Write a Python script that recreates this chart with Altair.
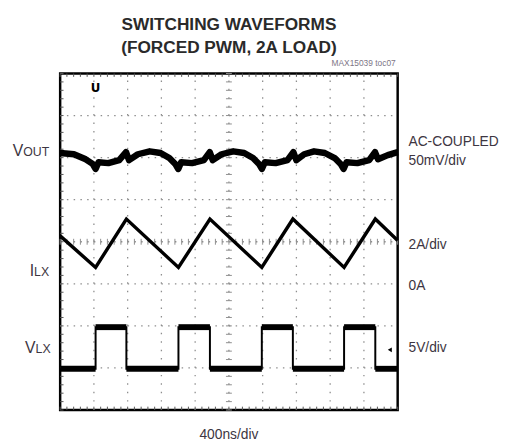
import altair as alt
import pandas as pd

# ---- data (x: time in ns, 400 ns/div over 10 div; y: screen divisions 0..8) ----
vout_t = [0, 163, 303, 385, 420, 455, 571, 700, 781, 816, 921, 1061, 1190, 1294, 1364,
          1400, 1434, 1563, 1703, 1773, 1808, 1913, 2052, 2181, 2286, 2356, 2391, 2426,
          2554, 2694, 2764, 2799, 2892, 3009, 3137, 3254, 3324, 3359, 3394, 3522, 3662,
          3732, 3767, 3883, 4000]
vout_v = [6.11, 6.08, 5.96, 5.85, 5.73, 5.89, 5.87, 5.94, 6.13, 5.94, 6.08, 6.15, 6.11,
          5.99, 5.85, 5.73, 5.89, 5.87, 5.94, 6.13, 5.94, 6.08, 6.15, 6.11, 5.99, 5.85,
          5.73, 5.89, 5.87, 5.94, 6.13, 5.94, 6.08, 6.15, 6.11, 5.99, 5.85, 5.73, 5.89,
          5.87, 5.94, 6.13, 5.96, 6.06, 6.13]

ilx_t = [0, 420, 785, 1402, 1775, 2390, 2758, 3365, 3735, 4000]
ilx_v = [4.14, 3.39, 4.54, 3.39, 4.54, 3.39, 4.54, 3.39, 4.54, 4.03]

vlx_rise = [420, 1402, 2390, 3365]
vlx_fall = [785, 1775, 2758, 3735]
vlx_high = 1.97
vlx_low = 0.98

left_main = ["V", "I", "V"]
left_sub = ["OUT", "LX", "LX"]
left_y = [6.04, 3.19, 1.36]

right_text = ["AC-COUPLED", "50mV/div", "2A/div", "0A", "5V/div"]
right_y = [6.27, 5.82, 3.82, 2.85, 1.39]

title_lines = ["SWITCHING WAVEFORMS", "(FORCED PWM, 2A LOAD)"]
x_label = "400ns/div"
code_label = "MAX15039 toc07"

# ---- tables built from the arrays ----
vout = pd.DataFrame({"t": vout_t, "v": vout_v})
ilx = pd.DataFrame({"t": ilx_t, "v": ilx_v})

vt, vv = [0], [vlx_low]
for r, f in zip(vlx_rise, vlx_fall):
    vt += [r, r, f, f]
    vv += [vlx_low, vlx_high, vlx_high, vlx_low]
vt.append(4000)
vv.append(vlx_low)
vlx = pd.DataFrame({"t": vt, "v": vv, "i": list(range(len(vt)))})
lows = pd.DataFrame({"t": [0] + vlx_fall, "t2": vlx_rise + [4000], "v": vlx_low})
highs = pd.DataFrame({"t": vlx_rise, "t2": vlx_fall, "v": vlx_high})

xs = alt.Scale(domain=[0, 4000], nice=False, zero=False)
ys = alt.Scale(domain=[0, 8], nice=False, zero=False)
X = alt.X("t:Q", scale=xs, axis=None)
Y = alt.Y("v:Q", scale=ys, axis=None)

FONT = "Liberation Sans, Arial, sans-serif"
TFONT = "Liberation Sans, Arial, sans-serif"
TXT = "#3d3642"
GRID = "#8e8e8e"

# grid scaffolding
hgrid = pd.DataFrame({"v": [1, 2, 3, 4, 5, 6, 7], "t": 0, "t2": 4000})
vgrid = pd.DataFrame({"t": [400 * i for i in range(1, 10)], "v": 0, "v2": 8})
xm = [80 * i for i in range(51)]
ym = [0.2 * i for i in range(41)]

h_rules = alt.Chart(hgrid).mark_rule(color=GRID, strokeWidth=1.3, strokeDash=[1.5, 5.36]).encode(
    x=X, x2="t2:Q", y=Y)
v_rules = alt.Chart(vgrid).mark_rule(color=GRID, strokeWidth=1.3, strokeDash=[1.5, 7.05]).encode(
    x=X, y=Y, y2="v2:Q")

ctr_x = alt.Chart(pd.DataFrame({"t": xm, "v": 3.93, "v2": 4.07})).mark_rule(
    color=GRID, strokeWidth=1).encode(x=X, y=Y, y2="v2:Q")
ctr_y = alt.Chart(pd.DataFrame({"v": ym, "t": 1965, "t2": 2035})).mark_rule(
    color=GRID, strokeWidth=1).encode(x=X, x2="t2:Q", y=Y)
top_t = alt.Chart(pd.DataFrame({"t": xm, "v": 7.92, "v2": 8})).mark_rule(
    color="#555", strokeWidth=1).encode(x=X, y=Y, y2="v2:Q")
bot_t = alt.Chart(pd.DataFrame({"t": xm, "v": 0, "v2": 0.08})).mark_rule(
    color="#555", strokeWidth=1).encode(x=X, y=Y, y2="v2:Q")
left_t = alt.Chart(pd.DataFrame({"v": ym, "t": 0, "t2": 40})).mark_rule(
    color="#555", strokeWidth=1).encode(x=X, x2="t2:Q", y=Y)

# traces
vout_line = alt.Chart(vout).mark_line(color="black", strokeWidth=6.5, strokeJoin="round").encode(
    x=X, y=Y, order="t:Q")
ilx_line = alt.Chart(ilx).mark_line(color="black", strokeWidth=3.5).encode(x=X, y=Y, order="t:Q")
vlx_line = alt.Chart(vlx).mark_line(color="black", strokeWidth=2).encode(
    x=X, y=Y, order="i:Q")
vlx_lo = alt.Chart(lows).mark_rule(color="black", strokeWidth=6).encode(x=X, x2="t2:Q", y=Y)
vlx_hi = alt.Chart(highs).mark_rule(color="black", strokeWidth=6).encode(x=X, x2="t2:Q", y=Y)

# markers
trig = alt.Chart(pd.DataFrame({"t": [420], "v": [7.65], "s": ["U"]})).mark_text(
    font="DejaVu Sans", fontSize=12, fontWeight="bold", color="black").encode(x=X, y=Y, text="s:N")
gnd = alt.Chart(pd.DataFrame({"t": [3907], "v": [1.43]})).mark_point(
    shape="triangle-left", filled=True, size=22, color="black", opacity=1).encode(x=X, y=Y)

# labels
rl = pd.DataFrame({"s": right_text, "v": right_y, "t": 4000})
r_lab = alt.Chart(rl).mark_text(font=FONT, fontSize=14, align="left", baseline="alphabetic",
                                color=TXT, dx=11).encode(x=X, y=Y, text="s:N")

ttl = pd.DataFrame({"s": title_lines, "t": 2000, "v": 8})
t1 = alt.Chart(ttl.iloc[[0]]).mark_text(font=TFONT, fontSize=17.5, fontWeight="bold", align="center",
                                         baseline="alphabetic", color="#2a2a2a", dy=-44).encode(
    x=X, y=Y, text="s:N")
t2 = alt.Chart(ttl.iloc[[1]]).mark_text(font=TFONT, fontSize=17.5, fontWeight="bold", align="center",
                                         baseline="alphabetic", color="#2a2a2a", dy=-21).encode(
    x=X, y=Y, text="s:N")
code = alt.Chart(pd.DataFrame({"s": [code_label], "t": 4000, "v": 8})).mark_text(
    font=FONT, fontSize=8.5, align="right", baseline="alphabetic", color="#7d7585", dx=-2, dy=-8).encode(
    x=X, y=Y, text="s:N")
xl = alt.Chart(pd.DataFrame({"s": [x_label], "t": 2000, "v": 0})).mark_text(
    font=FONT, fontSize=14, align="center", baseline="alphabetic", color=TXT, dy=29).encode(
    x=X, y=Y, text="s:N")

# left labels: big first letter + smaller caps
lm = []
ls = []
for m, s, v, right_px in zip(left_main, left_sub, left_y, [-37.5, -26.5, -25]):
    d = pd.DataFrame({"m": [m], "s": [s], "v": [v], "t": [0]})
    lm.append(alt.Chart(d).mark_text(font=FONT, fontSize=16, align="right", baseline="alphabetic",
                                     color=TXT, dx=right_px).encode(x=X, y=Y, text="m:N"))
    ls.append(alt.Chart(d).mark_text(font=FONT, fontSize=12.5, align="left", baseline="alphabetic",
                                     color=TXT, dx=right_px).encode(x=X, y=Y, text="s:N"))

chart = alt.layer(
    h_rules, v_rules, ctr_x, ctr_y, top_t, bot_t, left_t,
    vout_line, ilx_line, vlx_line, vlx_lo, vlx_hi, trig, gnd,
    r_lab, t1, t2, code, xl, *lm, *ls,
).properties(
    width=343, height=342, autosize="none",
    padding={"left": 53, "top": 63, "right": 104, "bottom": 33},
    background="white",
).configure_view(stroke="black", strokeWidth=2.5)

chart.save("out.html", embed_options={"renderer": "svg", "actions": False})
